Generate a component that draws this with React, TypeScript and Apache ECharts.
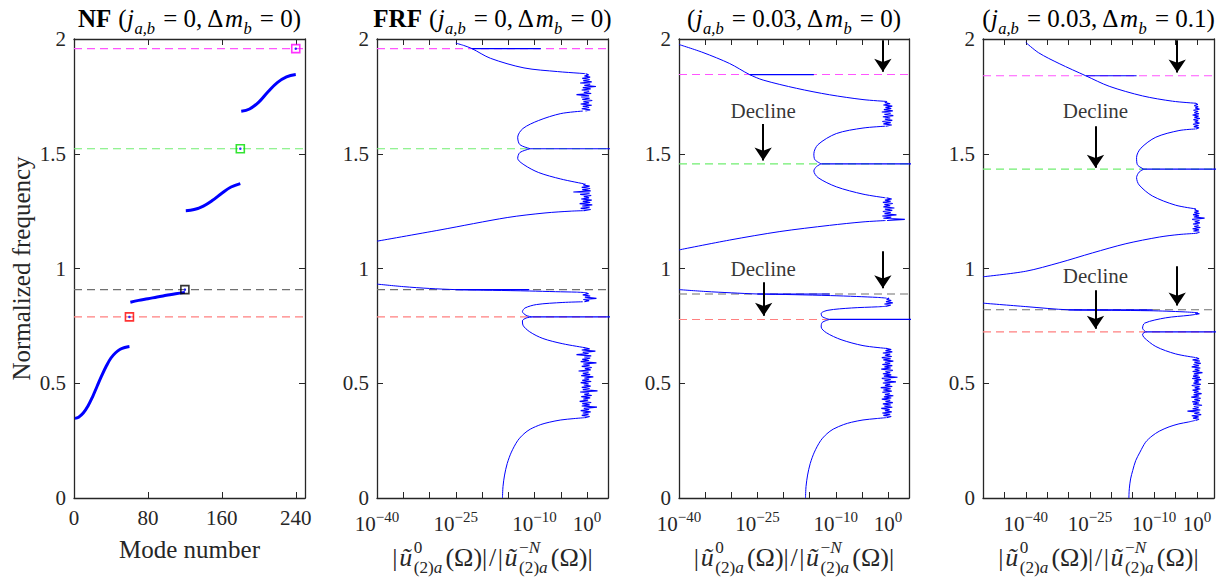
import React, { useEffect, useRef } from 'react';
import * as echarts from 'echarts';

const FONT = '"Liberation Serif", "DejaVu Serif", serif';
const AXC = '#262626';
const BLUE = '#0000ff';

// ---------------- data ----------------
const MODE_TICKS = [0, 80, 160, 240];
const LOG_LABELS = [-40, -25, -10, 0];

const NF_BAND1 = [[1,0.347],[5,0.352],[10,0.37],[15,0.4],[20,0.44],[25,0.487],[30,0.533],[35,0.575],[40,0.61],[45,0.633],[50,0.648],[55,0.656],[60,0.66]];
const NF_BAND2 = [[61,0.853],[70,0.861],[80,0.868],[90,0.876],[100,0.883],[110,0.89],[120,0.896]];
const NF_BAND3 = [[121,1.252],[130,1.257],[140,1.272],[150,1.297],[160,1.328],[170,1.355],[180,1.37]];
const NF_BAND4 = [[181,1.685],[190,1.695],[200,1.725],[210,1.77],[220,1.81],[230,1.835],[240,1.845]];
const NF_MARK_MODES = [60, 120, 180, 240];

const REF_NF = [0.789, 0.908, 1.522, 1.958];
const REF_J = [0.778, 0.889, 1.456, 1.845];
const REF_JM = [0.724, 0.82, 1.433, 1.84];

// panel 2 : FRF j=0, dm=0  (x = log10 of amplitude ratio)
const P2_BOTTOM = [[-16.1,0],[-16,0.05],[-15.7,0.1],[-15.2,0.15],[-14.4,0.2],[-13.2,0.25],[-12,0.28],[-10.8,0.3],[-8.8,0.32],[-7.2,0.33],[-5,0.34],[-2.5,0.346],[-0.4,0.35]];
const P2_C1 = [[-0.4,0.655],[-4.6,0.672],[-8.4,0.695],[-10.9,0.724],[-12.2,0.753],[-12.3,0.772],[-11.6,0.784],[-10.5,0.789]];
const P2_C2 = [[-10.5,0.789],[-11.6,0.796],[-12.3,0.812],[-11.8,0.828],[-9.6,0.843],[-4.6,0.852],[-0.8,0.855]];
const P2_TOP1 = [[-0.3,0.895],[-2,0.897],[-6,0.899],[-11,0.902],[-18,0.905],[-25,0.908],[-30,0.913],[-35,0.921],[-40,0.932]];
const P2_RISE = [[-40,1.119],[-28,1.168],[-15.2,1.222],[-8,1.242],[-3,1.25],[-0.6,1.252]];
const P2_C3 = [[-0.6,1.369],[-5,1.39],[-9.2,1.418],[-12,1.452],[-13.2,1.48],[-12.8,1.505],[-10.8,1.522]];
const P2_C4 = [[-10.8,1.522],[-12.8,1.54],[-13.2,1.572],[-12.2,1.61],[-9.2,1.645],[-5,1.675],[-0.8,1.686]];
const P2_TOP2 = [[-0.3,1.849],[-1.5,1.851],[-5.6,1.858],[-12,1.874],[-18.4,1.916],[-21.9,1.958],[-23.5,1.972],[-25,1.982]];
const P2_SPIKES = [[0.789,-10.5,10],[0.908,-25,-11],[1.522,-10.8,10],[1.958,-21.9,-8.8]];
const P2_BANDS = [[0.35,0.655],[0.855,0.895],[1.252,1.369],[1.686,1.849]];
const P2_N1 = [-0.4,0.5,-1.0,0.3,-0.8,0.7,-1.2,0.4,-0.6,1.9,-1.0,0.5,-0.9,0.8,-1.4,0.2,-0.7,0.6,-1.1,0.9,-0.5,0.4,-1.3,2.0,-0.8,0.5,-1.0,0.7,-0.6,0.3,-1.2,0.8,-0.9,0.4,-0.5,1.2,-1.1,0.6,-0.8,0.3,-1.6,0.7,-0.4,0.9,-1.0,0.5,-0.7,1.8,-1.2,0.4,-0.9,0.6,-0.5,0.8,-2.0,0.3,-0.8,1.6,-1.0,0.5,-0.6];
const P2_N2 = [-0.5,0.4,-0.7,1.8,-0.4,0.6,-0.8,0.3,-0.3];
const P2_N3 = [-0.6,0.7,-1.2,0.5,-0.9,1.0,-1.4,0.6,-0.8,0.9,-1.1,0.4,-0.6,0.8,-1.3,0.5,-2.6,0.7,-0.9,0.6,-1.0,0.5,-0.7,-0.3];
const P2_N4 = [-0.3,0.6,-1.0,0.4,-0.8,0.9,-1.2,0.4,-0.7,1.0,-0.9,0.5,-1.1,0.4,-2.0,0.8,-0.6,0.4,-1.0,0.7,-0.8,1.7,-0.5,0.6,-1.3,0.9,-0.7,0.5,-0.9,0.6,-0.5,0.3,-0.2];

// panel 3 : j=0.03, dm=0
const P3_BOTTOM = [[-15.8,0],[-15.7,0.05],[-15.4,0.1],[-14.9,0.15],[-14.1,0.2],[-12.9,0.25],[-11.7,0.28],[-10.5,0.3],[-8.5,0.32],[-7,0.33],[-4.8,0.34],[-2.3,0.346],[-0.4,0.35]];
const P3_C1 = [[-0.4,0.652],[-4.8,0.664],[-9,0.69],[-11.8,0.72],[-12.8,0.745],[-12.6,0.765],[-11.2,0.778]];
const P3_C2 = [[-11.2,0.778],[-12.6,0.79],[-12.8,0.804],[-11.5,0.818],[-7,0.828],[-2,0.833],[-0.5,0.835]];
const P3_TOP1 = [[-0.3,0.871],[-2,0.874],[-6,0.878],[-11,0.882],[-18,0.886],[-25,0.889],[-30,0.894],[-35,0.9],[-40,0.908]];
const P3_RISE = [[-40,1.081],[-30.3,1.124],[-20.7,1.161],[-11.2,1.188],[-4.8,1.203],[-0.5,1.209]];
const P3_C3 = [[-0.5,1.308],[-4.8,1.324],[-9.9,1.356],[-13.4,1.396],[-14.2,1.425],[-13.7,1.444],[-12.8,1.456]];
const P3_C4 = [[-12.8,1.456],[-14,1.474],[-14.2,1.5],[-13.4,1.54],[-9.9,1.588],[-4.8,1.612],[-0.5,1.62]];
const P3_TOP2 = [[-0.3,1.728],[-4.8,1.736],[-11.2,1.757],[-17.5,1.785],[-23.9,1.821],[-26.5,1.845],[-30.3,1.893],[-35.4,1.941],[-40,1.976]];
const P3_SPIKES = [[0.778,-11.2,10],[0.889,-25,-11.2],[1.456,-12.8,10],[1.845,-26.5,-14.2]];
const P3_BANDS = [[0.35,0.652],[0.835,0.871],[1.209,1.308],[1.62,1.728]];
const P3_N1 = [-0.3,0.6,-0.9,0.4,-1.1,0.7,-0.6,0.3,-1.3,0.8,-0.7,0.5,-1.0,0.9,-0.5,0.4,-1.2,0.6,-0.8,1.0,-0.6,0.3,-1.1,0.7,-0.9,0.5,-1.4,0.8,-0.6,0.4,-1.0,1.5,-0.7,0.5,-1.2,1.8,-0.8,0.6,-1.0,0.4,-0.5,0.9,-1.3,0.5,-0.7,0.8,-1.1,0.4,-0.6,1.0,-0.9,0.5,-1.2,0.7,-0.6,0.4,-1.0,0.8,-0.5,0.6,-0.4];
const P3_N2 = [-0.5,0.5,-0.7,0.9,-0.4,0.6,-0.3,0.2];
const P3_N3 = [-0.2,3.2,-0.9,0.6,-1.1,1.6,-0.7,0.5,-1.0,0.8,-0.6,1.2,-0.9,0.4,-0.7,0.9,-1.0,0.5,-0.6,0.7,-0.3];
const P3_N4 = [-0.4,0.7,-0.9,0.5,-1.1,0.8,-0.6,0.4,-1.0,1.0,-0.7,0.5,-1.2,0.9,-0.8,0.6,-0.5,0.8,-0.9,0.4,-0.6,-0.2];

// panel 4 : j=0.03, dm=0.1
const P4_BOTTOM = [[-15.9,0],[-15.8,0.04],[-15.5,0.083],[-15,0.12],[-14.3,0.163],[-13.3,0.2],[-12,0.243],[-10.5,0.27],[-8.8,0.291],[-6.5,0.31],[-4.2,0.323],[-2,0.331],[-0.4,0.338]];
const P4_C1 = [[-0.3,0.612],[-5,0.628],[-9.6,0.66],[-12.4,0.7],[-12.7,0.714],[-12,0.724]];
const P4_C2 = [[-12,0.724],[-12.7,0.74],[-12.2,0.762],[-7.3,0.785],[-1.8,0.796],[-0.3,0.8]];
const P4_TOP1 = [[-0.2,0.808],[-3,0.811],[-7,0.814],[-11,0.816],[-20,0.818],[-30,0.82],[-40,0.834],[-50,0.849]];
const P4_RISE = [[-50,0.964],[-40,0.988],[-32.2,1.025],[-24.4,1.068],[-16.6,1.108],[-8.8,1.137],[-4.2,1.148],[-0.3,1.153]];
const P4_C3 = [[-0.3,1.26],[-5,1.276],[-10.4,1.316],[-13.5,1.364],[-14.1,1.396],[-13.5,1.42],[-12.4,1.433]];
const P4_C4 = [[-12.4,1.433],[-13.9,1.452],[-14.1,1.484],[-13.1,1.524],[-9.6,1.572],[-4.2,1.601],[-0.3,1.608]];
const P4_TOP2 = [[-0.2,1.72],[-5.7,1.729],[-12.7,1.752],[-20.5,1.794],[-26,1.84],[-32.2,1.893],[-37,1.94],[-40,1.985]];
const P4_SPIKES = [[0.724,-12,10],[0.82,-30,-10.4],[1.433,-12.4,10],[1.84,-26,-14.1]];
const P4_BANDS = [[0.338,0.612],[0.8,0.808],[1.153,1.26],[1.608,1.72]];
const P4_N1 = [-0.3,0.5,-0.9,0.4,-1.2,1.0,-0.6,0.6,-2.2,0.8,-1.0,0.4,-0.7,1.2,-0.9,0.5,-1.1,0.7,-0.6,0.9,-1.3,0.5,-0.8,1.1,-0.7,0.4,-1.0,0.8,-0.5,0.6,-1.2,0.9,-0.8,0.5,-0.6,1.0,-1.1,0.7,-0.9,0.4,-0.7,1.3,-1.0,0.6,-0.5,0.8,-1.2,0.5,-0.8,0.9,-0.6,0.7,-1.0,0.5,-0.2];
const P4_N2 = [-0.3,0.6,-0.4,0.2];
const P4_N3 = [-0.3,0.6,-0.8,0.5,-1.0,0.8,-0.6,0.4,-0.9,0.7,-0.5,0.6,-1.1,1.8,-0.7,0.5,-0.9,0.6,-0.6,0.4,-0.5,-0.2];
const P4_N4 = [-0.2,0.5,-0.7,0.4,-0.9,0.6,-0.5,0.3,-0.8,0.7,-0.6,0.4,-1.0,0.5,-0.6,0.3,-0.8,0.6,-0.4,0.3,-0.6,0.2,-0.3];

// annotations: [x, fromFreq, toFreq]
const ARROWS_J = [[-1.0,1.995,1.835],[-23.9,1.63,1.449],[-1.0,1.075,0.892],[-23.8,0.94,0.772]];
const DECLINE_J = [[-23.9,1.685],[-23.9,1.0]];
const ARROWS_JM = [[-4.6,1.995,1.832],[-23.7,1.62,1.417],[-4.6,1.01,0.817],[-23.7,0.905,0.716]];
const DECLINE_JM = [[-23.7,1.685],[-23.7,0.967]];

// ---------------- styles / layout ----------------
const REF_COLORS = ['#ff8080', '#707070', '#70ee70', '#ff55ff'];
const MARK_COLORS = ['#ff0000', '#000000', '#00dd00', '#ff00ff'];
const GRIDS = [
  { left: 74, top: 39, width: 231, height: 459 },
  { left: 377, top: 39, width: 231, height: 459 },
  { left: 679, top: 39, width: 230, height: 459 },
  { left: 983, top: 39, width: 231, height: 459 },
];

type Tok = { t: string; st?: 'rm' | 'it' | 'bf' };
type Item = Tok | { sup?: Tok[]; sub?: Tok[] };

let _ctx: CanvasRenderingContext2D | null = null;
function measure(text: string, size: number, st?: string) {
  if (!_ctx) _ctx = document.createElement('canvas').getContext('2d');
  const c = _ctx!;
  c.font = `${st === 'it' ? 'italic ' : ''}${st === 'bf' ? 'bold ' : ''}${size}px ${FONT}`;
  return c.measureText(text).width;
}

function mathLine(items: Item[], cx: number, baseline: number, size: number, color: string, gap = 0) {
  const K = 0.66;
  const w = (t: Tok, k: number) => measure(t.t, size * k, t.st);
  const widths = items.map((it: any) => {
    if ('t' in it) return w(it, 1) + gap;
    const ws = (it.sup || []).reduce((a: number, t: Tok) => a + w(t, K), 0);
    const wb = (it.sub || []).reduce((a: number, t: Tok) => a + w(t, K), 0);
    return Math.max(ws, wb) + 1.5 + gap;
  });
  const total = widths.reduce((a, b) => a + b, 0) - gap;
  let x = cx - total / 2;
  const els: any[] = [];
  const push = (t: Tok, k: number, px: number, dy: number) =>
    els.push({
      type: 'text', x: px, y: baseline + dy - 0.3 * size * k, silent: true,
      style: {
        text: t.t, fontSize: size * k, fontFamily: FONT,
        fontStyle: t.st === 'it' ? 'italic' : 'normal',
        fontWeight: t.st === 'bf' ? 'bold' : 'normal',
        fill: color, align: 'left', verticalAlign: 'middle',
      },
    });
  items.forEach((it: any, i) => {
    if ('t' in it) push(it, 1, x, 0);
    else {
      let xs = x;
      (it.sup || []).forEach((t: Tok) => { push(t, K, xs, -0.48 * size); xs += w(t, K); });
      let xb = x;
      (it.sub || []).forEach((t: Tok) => { push(t, K, xb, 0.3 * size); xb += w(t, K); });
    }
    x += widths[i];
  });
  return els;
}

function titleItems(prefix: string, j: string, dm: string): Item[] {
  const items: Item[] = [];
  if (prefix) items.push({ t: prefix, st: 'bf' }, { t: ' ' });
  items.push(
    { t: '(' }, { t: 'j', st: 'it' }, { sub: [{ t: 'a,b', st: 'it' }] },
    { t: ' = ' + j + ', Δ' }, { t: 'm', st: 'it' }, { sub: [{ t: 'b', st: 'it' }] },
    { t: ' = ' + dm + ')' },
  );
  return items;
}

const FRF_LABEL: Item[] = [
  { t: '|' }, { t: 'ũ', st: 'it' },
  { sup: [{ t: '0' }], sub: [{ t: '(2)' }, { t: 'a', st: 'it' }] },
  { t: '(Ω)|' }, { t: '/' }, { t: '|' }, { t: 'ũ', st: 'it' },
  { sup: [{ t: '−' }, { t: 'N', st: 'it' }], sub: [{ t: '(2)' }, { t: 'a', st: 'it' }] },
  { t: '(Ω)|' },
];

type Piece = { pts: number[][]; smooth: boolean };
const curve = (pts: number[][]): Piece => ({ pts, smooth: true });
const noise = (band: number[], xs: number[]): Piece => ({
  pts: xs.map((x, i) => [x, band[0] + ((band[1] - band[0]) * i) / (xs.length - 1)]),
  smooth: false,
});
const spike = (s: number[]): Piece => ({ pts: [[s[1], s[0]], [s[2], s[0]]], smooth: false });

function frfPieces(bands: number[][], ns: number[][], cs: number[][][], sp: number[][]): Piece[] {
  // cs: bottom, c1, c2, top1, rise, c3, c4, top2
  return [
    curve(cs[0]), noise(bands[0], ns[0]), curve(cs[1]), spike(sp[0]), curve(cs[2]),
    noise(bands[1], ns[1]), curve(cs[3]), spike(sp[1]),
    curve(cs[4]), noise(bands[2], ns[2]), curve(cs[5]), spike(sp[2]), curve(cs[6]),
    noise(bands[3], ns[3]), curve(cs[7]), spike(sp[3]),
  ];
}

function buildOption() {
  const xAxis: any[] = [];
  const yAxis: any[] = [];
  const series: any[] = [];
  const graphic: any[] = [];
  const extents: number[][] = [];

  const tickStyle = { inside: true, length: 6, lineStyle: { color: AXC, width: 1 } };
  const lineStyleAx = { show: true, onZero: false, lineStyle: { color: AXC, width: 1.3 } };

  GRIDS.forEach((g, k) => {
    const isNF = k === 0;
    const xmin = isNF ? 0 : k === 3 ? -50 : -40;
    const xmax = isNF ? 250 : 4;
    extents.push([xmin, xmax]);
    const interval = isNF ? 80 : 5;
    const labelNF = {
      fontSize: 21, fontFamily: FONT, color: AXC, margin: 9, showMaxLabel: false,
      formatter: (v: number) => (MODE_TICKS.includes(v) ? String(v) : ''),
    };
    const labelLog = {
      margin: 11, showMaxLabel: false,
      formatter: (v: number) => {
        const r = Math.round(v);
        if (Math.abs(v - r) > 1e-6 || !LOG_LABELS.includes(r)) return '';
        return `{b|10}{s|${r < 0 ? '−' : ''}${Math.abs(r)}}`;
      },
      rich: {
        b: { fontSize: 21, fontFamily: FONT, color: AXC, padding: [4, 0, 0, 0], verticalAlign: 'bottom' },
        s: { fontSize: 15, fontFamily: FONT, color: AXC, verticalAlign: 'top' },
      },
    };
    xAxis.push({
      type: 'value', gridIndex: k, position: 'bottom', min: xmin, max: xmax, interval,
      axisLine: lineStyleAx, axisTick: tickStyle, splitLine: { show: false },
      axisLabel: isNF ? labelNF : labelLog,
    });
    xAxis.push({
      type: 'value', gridIndex: k, position: 'top', min: xmin, max: xmax, interval,
      axisLine: lineStyleAx, axisTick: tickStyle, splitLine: { show: false }, axisLabel: { show: false },
    });
    yAxis.push({
      type: 'value', gridIndex: k, position: 'left', min: 0, max: 2, interval: 0.5,
      axisLine: lineStyleAx, axisTick: tickStyle, splitLine: { show: false },
      axisLabel: { fontSize: 21, fontFamily: FONT, color: AXC, margin: 8 },
      ...(isNF
        ? { name: 'Normalized frequency', nameLocation: 'middle', nameGap: 40,
            nameTextStyle: { fontSize: 25, fontFamily: FONT, color: AXC } }
        : {}),
    });
    yAxis.push({
      type: 'value', gridIndex: k, position: 'right', min: 0, max: 2, interval: 0.5,
      axisLine: lineStyleAx, axisTick: tickStyle, splitLine: { show: false }, axisLabel: { show: false },
    });
  });

  const refLines = (k: number, vals: number[]) => {
    vals.forEach((v, i) => {
      series.push({
        type: 'line', xAxisIndex: 2 * k, yAxisIndex: 2 * k, symbol: 'none', silent: true, z: 2,
        data: [[extents[k][0], v], [extents[k][1], v]],
        lineStyle: { color: REF_COLORS[i], type: [8, 5], width: 1.1 },
      });
    });
  };
  const arrowMark = (arr: number[][]) => ({
    silent: true, symbol: ['none', 'arrow'], symbolSize: 13, label: { show: false },
    lineStyle: { color: '#000', width: 2, type: 'solid' },
    data: arr.map(([x, f1, f2]) => [{ coord: [x, f1] }, { coord: [x, f2 + 0.022] }]),
  });

  // ---- panel 1 ----
  refLines(0, REF_NF);
  [NF_BAND1, NF_BAND2, NF_BAND3, NF_BAND4].forEach((b) => {
    series.push({
      type: 'line', xAxisIndex: 0, yAxisIndex: 0, data: b, smooth: 0.4, symbol: 'none',
      lineStyle: { color: BLUE, width: 3 }, silent: true, z: 3,
    });
  });
  series.push({
    type: 'scatter', xAxisIndex: 0, yAxisIndex: 0, symbol: 'rect', symbolSize: 8, silent: true, z: 5,
    data: NF_MARK_MODES.map((m, i) => ({
      value: [m, REF_NF[i]],
      itemStyle: { color: 'rgba(255,255,255,0)', borderColor: MARK_COLORS[i], borderWidth: 1.6 },
    })),
  });
  series.push({
    type: 'scatter', xAxisIndex: 0, yAxisIndex: 0, symbol: 'circle', symbolSize: 2.5, silent: true, z: 6,
    itemStyle: { color: BLUE }, data: NF_MARK_MODES.map((m, i) => [m, REF_NF[i]]),
  });

  // ---- FRF panels ----
  const panels = [
    { pieces: frfPieces(P2_BANDS, [P2_N1, P2_N2, P2_N3, P2_N4],
        [P2_BOTTOM, P2_C1, P2_C2, P2_TOP1, P2_RISE, P2_C3, P2_C4, P2_TOP2], P2_SPIKES), ref: REF_NF, arrows: null, decl: null },
    { pieces: frfPieces(P3_BANDS, [P3_N1, P3_N2, P3_N3, P3_N4],
        [P3_BOTTOM, P3_C1, P3_C2, P3_TOP1, P3_RISE, P3_C3, P3_C4, P3_TOP2], P3_SPIKES), ref: REF_J, arrows: ARROWS_J, decl: DECLINE_J },
    { pieces: frfPieces(P4_BANDS, [P4_N1, P4_N2, P4_N3, P4_N4],
        [P4_BOTTOM, P4_C1, P4_C2, P4_TOP1, P4_RISE, P4_C3, P4_C4, P4_TOP2], P4_SPIKES), ref: REF_JM, arrows: ARROWS_JM, decl: DECLINE_JM },
  ];
  panels.forEach((p, idx) => {
    const k = idx + 1;
    refLines(k, p.ref);
    p.pieces.forEach((pc, i) => {
      const s: any = {
        type: 'line', xAxisIndex: 2 * k, yAxisIndex: 2 * k, data: pc.pts, symbol: 'none',
        smooth: pc.smooth ? 0.3 : false, lineStyle: { color: BLUE, width: pc.smooth ? 1 : 1.15 }, silent: true, z: 3,
      };
      if (i === 0 && p.arrows) s.markLine = arrowMark(p.arrows);
      series.push(s);
    });
    if (p.decl) {
      series.push({
        type: 'scatter', xAxisIndex: 2 * k, yAxisIndex: 2 * k, data: p.decl, symbolSize: 1, silent: true, z: 6,
        itemStyle: { color: 'rgba(0,0,0,0)' },
        label: { show: true, position: 'inside', formatter: 'Decline', fontSize: 21, fontFamily: FONT, color: '#000' },
      });
    }
  });

  // ---- titles & axis names ----
  const titles: Item[][] = [
    titleItems('NF', '0', '0'),
    titleItems('FRF', '0', '0'),
    titleItems('', '0.03', '0'),
    titleItems('', '0.03', '0.1'),
  ];
  GRIDS.forEach((g, k) => {
    const cx = g.left + g.width / 2;
    graphic.push(...mathLine(titles[k], cx, 26, 25, '#000', 0.4));
    if (k === 0) graphic.push(...mathLine([{ t: 'Mode number' }], cx, 557, 25, AXC));
    else graphic.push(...mathLine(FRF_LABEL, cx, 565, 26, AXC, 1.6));
  });

  return {
    animation: false,
    backgroundColor: '#ffffff',
    grid: GRIDS.map((g) => ({ ...g, containLabel: false })),
    xAxis, yAxis, series, graphic,
  };
}

export default function App() {
  const ref = useRef<HTMLDivElement>(null);
  useEffect(() => {
    const chart = echarts.init(ref.current!, null, { renderer: 'svg' });
    chart.setOption(buildOption() as any);
    return () => chart.dispose();
  }, []);
  return (
    <div
      ref={ref}
      style={{ position: 'fixed', left: 0, top: 0, width: 1231, height: 578, background: '#fff' }}
    />
  );
}
